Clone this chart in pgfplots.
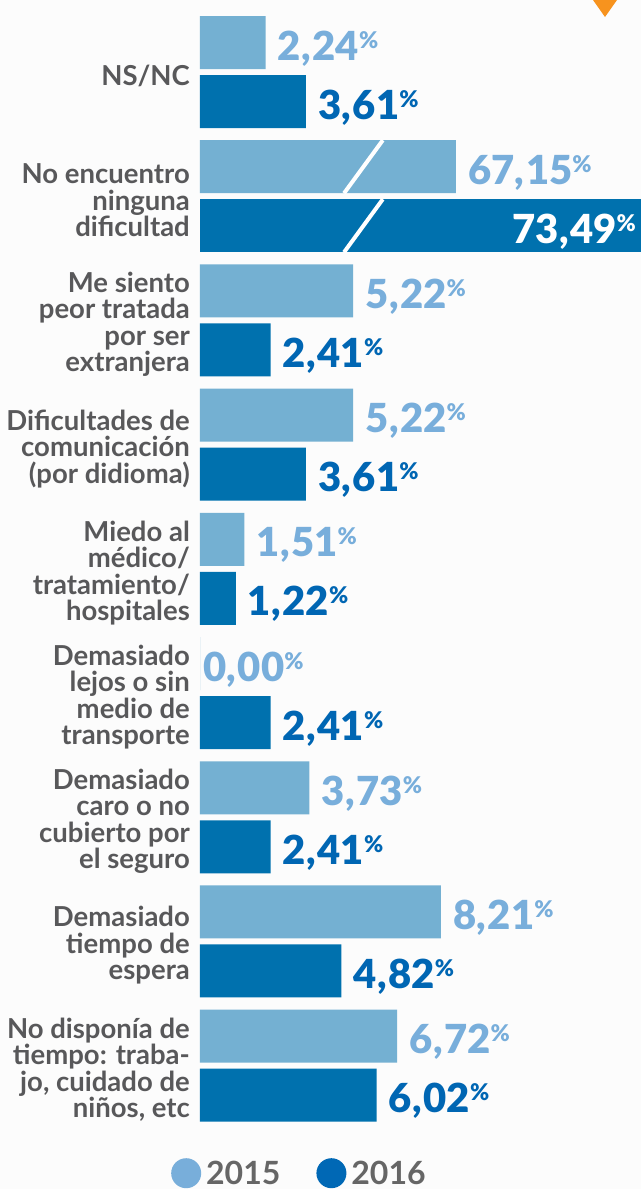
\documentclass[border=0pt]{standalone}
\usepackage{fontspec}
\setmainfont{Lato}
\newfontfamily\heavyfont{Lato}[UprightFont={* Black}, BoldFont={* Black}]
\usepackage{pgfplots}
\pgfplotsset{compat=1.18}
\usepackage{pgfplotstable}
\definecolor{bgc}{HTML}{FCFCFC}
\definecolor{c15}{HTML}{74B0D2}
\definecolor{c16}{HTML}{0071AE}
\definecolor{t15}{HTML}{78AEDB}
\definecolor{t16}{HTML}{0066B3}
\definecolor{l15}{HTML}{78AEDA}
\definecolor{l16}{HTML}{0068B5}
\definecolor{catg}{HTML}{58585A}
\definecolor{legg}{HTML}{666666}
\definecolor{orng}{HTML}{F7931E}

% 2015 (len = drawn length; the "No encuentro" bar is drawn broken)
\pgfplotstableread{
idx len val
0 2.24 2.24
1 8.72 67.15
2 5.22 5.22
3 5.22 5.22
4 1.51 1.51
6 3.73 3.73
7 8.21 8.21
8 6.72 6.72
}\dataA
\pgfplotstableread{
idx len val
5 0.00 0.00
}\dataAz
% 2016
\pgfplotstableread{
idx len val
0 3.61 3.61
2 2.41 2.41
3 3.61 3.61
4 1.22 1.22
5 2.41 2.41
6 2.41 2.41
7 4.82 4.82
8 6.02 6.02
}\dataB
\pgfplotstableread{
idx len val
1 15.03 73.49
}\dataC

\newcommand{\pct}{\raisebox{12pt}{\fontsize{23}{23}\selectfont\%}}
\newcommand{\valfont}{\fontsize{40}{40}\selectfont\heavyfont}

\begin{document}
\begin{tikzpicture}
\fill[bgc] (0,0) rectangle (641pt,-1189pt);
\fill[orng] (593pt,0pt) -- (617pt,0pt) -- (605pt,-17pt) -- cycle;
\begin{axis}[
  at={(200pt,-10pt)}, anchor=north west,
  scale only axis, width=441pt, height=1120pt,
  xmin=0, xmax=15.03, ymin=-0.4992, ymax=8.5185,
  y dir=reverse,
  axis line style={draw=none},
  xtick=\empty,
  ytick={0,...,8},
  major tick length=0pt,
  yticklabels={
    {NS/NC},
    {No encuentro\\ninguna\\dificultad},
    {Me siento\\peor tratada\\por ser\\extranjera},
    {Dificultades de\\comunicación\\(por didioma)},
    {Miedo al\\médico/\\tratamiento/\\hospitales},
    {Demasiado\\lejos o sin\\medio de\\transporte},
    {Demasiado\\caro o no\\cubierto por\\el seguro},
    {Demasiado\\tiempo de\\espera},
    {No disponía de\\tiempo: traba-\\jo, cuidado de\\niños, etc}
  },
  yticklabel style={align=right, font=\fontsize{27.5}{26.5}\selectfont\bfseries, text=catg, inner sep=0pt, xshift=-10pt, yshift=-4pt},
  xbar, bar width=0.4267,
  clip=false,
  point meta=explicit,
  nodes near coords={\pgfmathprintnumber[fixed,fixed zerofill,precision=2,use comma,set decimal separator={\kern0.5pt,\kern1.5pt},assume math mode=true]{\pgfplotspointmeta}\pct},
  legend style={at={(-0.0658,-0.0385)}, anchor=west, legend columns=2, draw=none, fill=none, inner sep=0pt,
    font=\fontsize{32}{32}\selectfont\bfseries, text=legg,
    /tikz/every even column/.append style={column sep=34pt}},
]
\addplot[fill=c15, draw=none, bar shift=-0.2375,
  every node near coord/.append style={font=\valfont, text=t15, inner sep=0pt, anchor=base west, xshift=12pt, yshift=-17.5pt},
  legend image code/.code={\fill[l15] (15pt,0pt) circle (15pt);}]
  table[x=len, y=idx, meta=val] {\dataA};
\addlegendentry{\hspace{3pt}2015}
\addplot[fill=c16, draw=none, bar shift=0.2375,
  every node near coord/.append style={font=\valfont, text=t16, inner sep=0pt, anchor=base west, xshift=12pt, yshift=-17.5pt},
  legend image code/.code={\fill[l16] (15pt,0pt) circle (15pt);}]
  table[x=len, y=idx, meta=val] {\dataB};
\addlegendentry{\hspace{3pt}2016}
\addplot[fill=c15, draw=none, bar shift=-0.2375, forget plot,
  every node near coord/.append style={font=\valfont, text=t15, inner sep=0pt, anchor=base west, xshift=3pt, yshift=-17.5pt}]
  table[x=len, y=idx, meta=val] {\dataAz};
\addplot[fill=c16, draw=none, bar shift=0.2375, forget plot,
  every node near coord/.append style={font=\valfont, text=white, inner sep=0pt, anchor=base east, xshift=-5pt, yshift=-17.5pt}]
  table[x=len, y=idx, meta=val] {\dataC};
\draw[white, line width=4pt] (axis cs:4.91,0.9759) -- (axis cs:6.23,0.5491);
\draw[white, line width=4pt] (axis cs:4.91,1.4509) -- (axis cs:6.23,1.0241);
\end{axis}
\pgfresetboundingbox
\path[use as bounding box] (0,0) rectangle (641pt,-1189pt);
\end{tikzpicture}
\end{document}
